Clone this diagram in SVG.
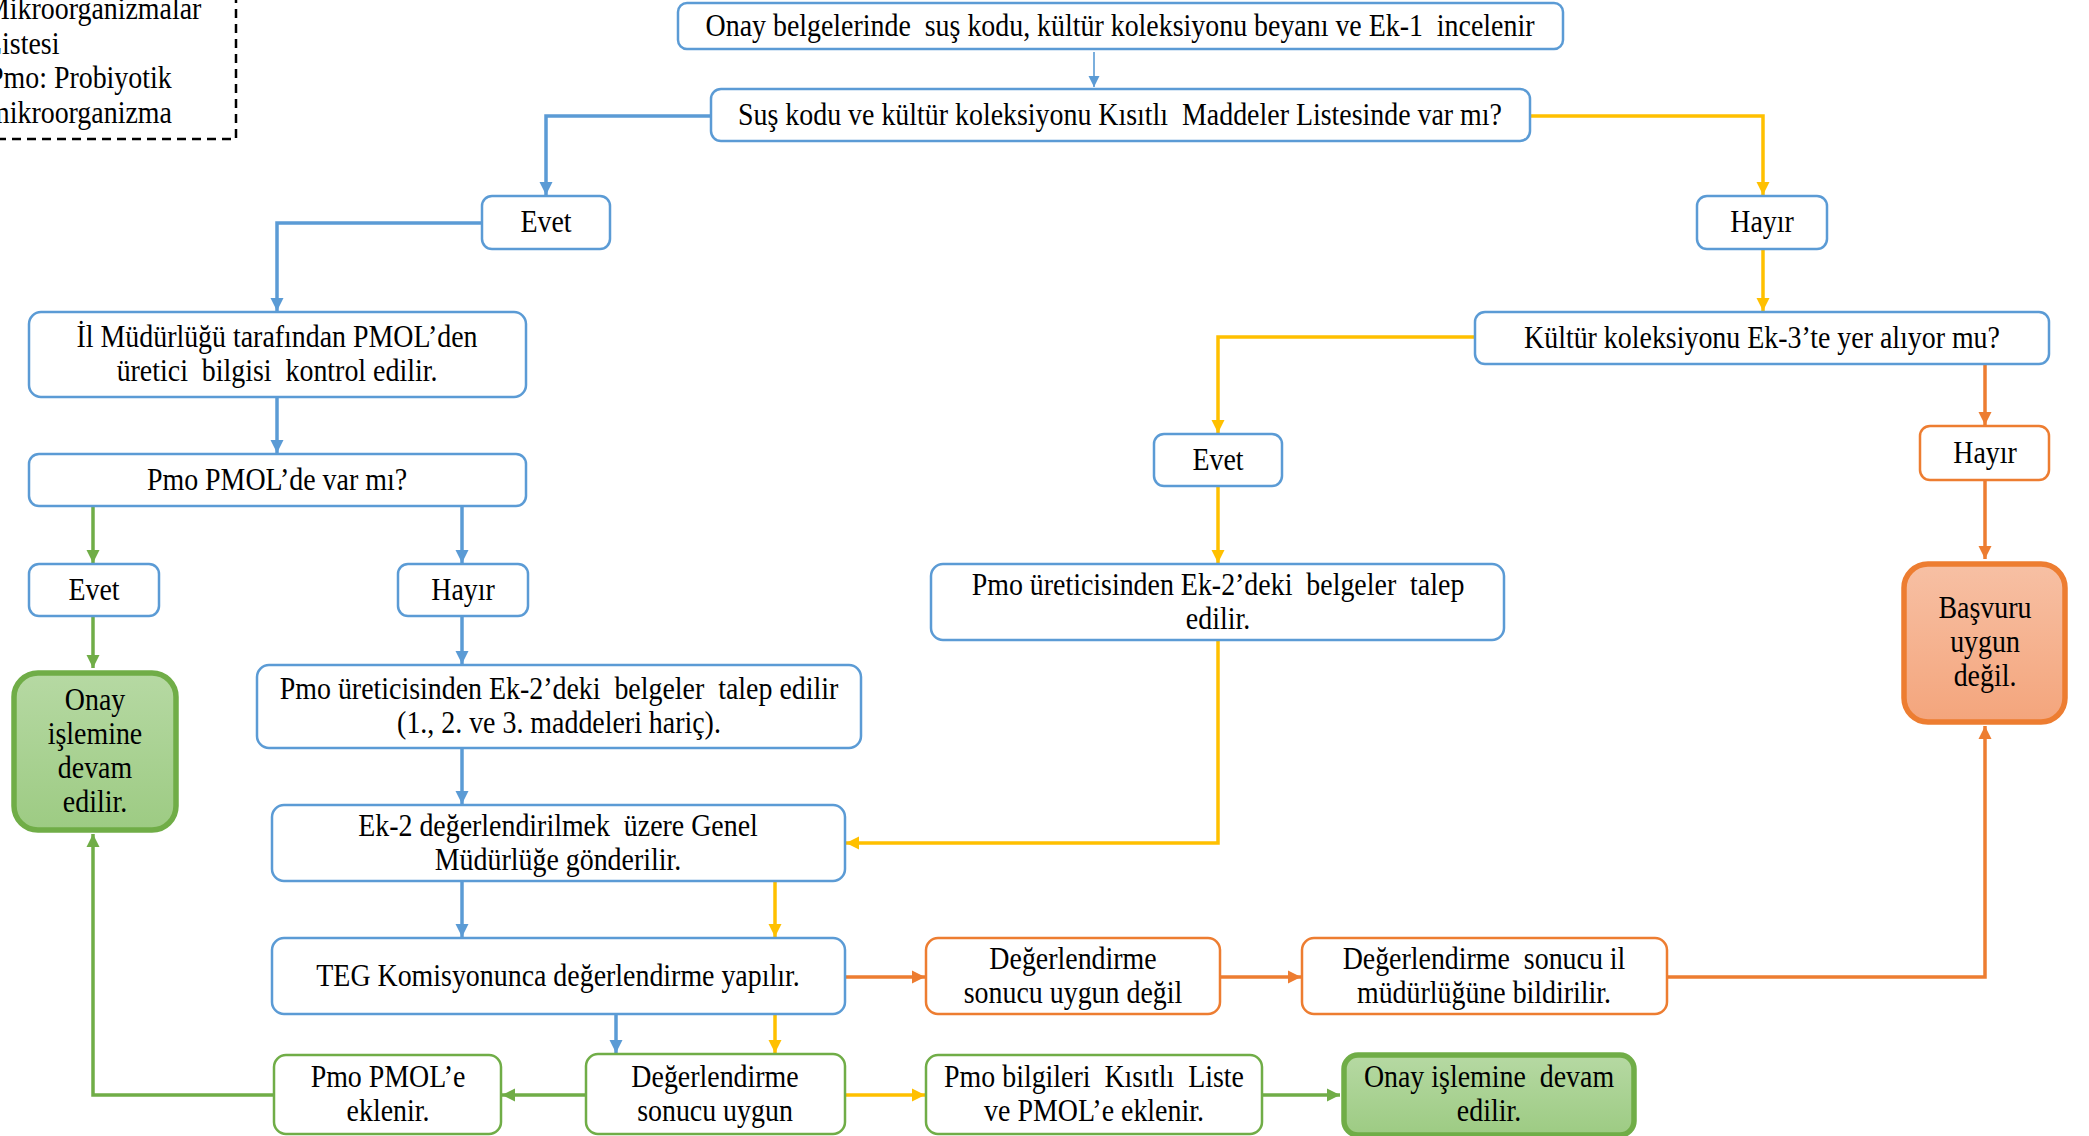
<svg xmlns="http://www.w3.org/2000/svg" width="2089" height="1136" viewBox="0 0 2089 1136">
<style>
.bx{fill:#fff;stroke:#5B9BD5;stroke-width:2.5}
.bo{fill:#fff;stroke:#ED7D31;stroke-width:2.5}
.bg{fill:#fff;stroke:#70AD47;stroke-width:2.5}
.tg{fill:url(#gG);stroke:#70AD47;stroke-width:5.5}
.to{fill:url(#gO);stroke:#ED7D31;stroke-width:5.5}
text{font-family:"Liberation Serif","Times New Roman",serif;font-size:31px;fill:#000}
.c{text-anchor:middle;white-space:pre}
.l{fill:none;stroke-width:3.5}
.lb{stroke:#5B9BD5}
.ly{stroke:#FFC000}
.lo{stroke:#ED7D31}
.lg{stroke:#70AD47}
</style>
<defs>
<linearGradient id="gG" x1="0" y1="0" x2="0" y2="1"><stop offset="0" stop-color="#B6D9A3"/><stop offset="1" stop-color="#9DCB83"/></linearGradient>
<linearGradient id="gO" x1="0" y1="0" x2="0" y2="1"><stop offset="0" stop-color="#F7C0A4"/><stop offset="1" stop-color="#F4A57C"/></linearGradient>
<marker id="ab" markerUnits="userSpaceOnUse" markerWidth="14" markerHeight="14" refX="13" refY="7" orient="auto"><path d="M0,0.5 L13,7 L0,13.5 z" fill="#5B9BD5"/></marker>
<marker id="abs" markerUnits="userSpaceOnUse" markerWidth="12" markerHeight="12" refX="11" refY="6" orient="auto"><path d="M0,0.5 L11,6 L0,11.5 z" fill="#5B9BD5"/></marker>
<marker id="ay" markerUnits="userSpaceOnUse" markerWidth="14" markerHeight="14" refX="13" refY="7" orient="auto"><path d="M0,0.5 L13,7 L0,13.5 z" fill="#FFC000"/></marker>
<marker id="ao" markerUnits="userSpaceOnUse" markerWidth="14" markerHeight="14" refX="13" refY="7" orient="auto"><path d="M0,0.5 L13,7 L0,13.5 z" fill="#ED7D31"/></marker>
<marker id="ag" markerUnits="userSpaceOnUse" markerWidth="14" markerHeight="14" refX="13" refY="7" orient="auto"><path d="M0,0.5 L13,7 L0,13.5 z" fill="#70AD47"/></marker>
</defs>
<rect width="2089" height="1136" fill="#fff"/>

<g id="legend">
<rect x="-20" y="-20" width="256" height="159" fill="none" stroke="#000" stroke-width="2.5" stroke-dasharray="9,6"/>
<text transform="translate(-15 19) scale(0.9 1)">Mikroorganizmalar</text>
<text transform="translate(-15 54) scale(0.9 1)">Listesi</text>
<text transform="translate(-12 88) scale(0.9 1)">Pmo: Probiyotik</text>
<text transform="translate(-12 123) scale(0.9 1)">mikroorganizma</text>
</g>

<g id="connectors">
<path class="l lb" style="stroke-width:1.6" d="M1094 52 V87" marker-end="url(#abs)"/>
<path class="l lb" d="M711 116 H546 V195" marker-end="url(#ab)"/>
<path class="l ly" d="M1530 116 H1763 V195" marker-end="url(#ay)"/>
<path class="l ly" d="M1763 249 V311" marker-end="url(#ay)"/>
<path class="l ly" d="M1475 337 H1218 V433" marker-end="url(#ay)"/>
<path class="l ly" d="M1218 486 V563" marker-end="url(#ay)"/>
<path class="l ly" d="M1218 640 V843 H846" marker-end="url(#ay)"/>
<path class="l lo" d="M1985 364 V425" marker-end="url(#ao)"/>
<path class="l lo" d="M1985 480 V559" marker-end="url(#ao)"/>
<path class="l lb" d="M482 223 H277 V311" marker-end="url(#ab)"/>
<path class="l lb" d="M277 397 V453" marker-end="url(#ab)"/>
<path class="l lg" d="M93 506 V563" marker-end="url(#ag)"/>
<path class="l lb" d="M462 506 V563" marker-end="url(#ab)"/>
<path class="l lg" d="M93 616 V668" marker-end="url(#ag)"/>
<path class="l lb" d="M462 616 V664" marker-end="url(#ab)"/>
<path class="l lb" d="M462 748 V804" marker-end="url(#ab)"/>
<path class="l lb" d="M462 881 V937" marker-end="url(#ab)"/>
<path class="l ly" d="M775 881 V937" marker-end="url(#ay)"/>
<path class="l lo" d="M845 977 H925" marker-end="url(#ao)"/>
<path class="l lo" d="M1220 977 H1301" marker-end="url(#ao)"/>
<path class="l lo" d="M1667 977 H1985 V726" marker-end="url(#ao)"/>
<path class="l lb" d="M616 1014 V1053" marker-end="url(#ab)"/>
<path class="l ly" d="M775 1014 V1053" marker-end="url(#ay)"/>
<path class="l lg" d="M586 1095 H502" marker-end="url(#ag)"/>
<path class="l lg" d="M274 1095 H93 V834" marker-end="url(#ag)"/>
<path class="l ly" d="M845 1095 H925" marker-end="url(#ay)"/>
<path class="l lg" d="M1262 1095 H1340" marker-end="url(#ag)"/>
</g>

<g id="n1"><rect class="bx" x="678" y="3" width="885" height="46" rx="9"/>
<text class="c" transform="translate(1120 36) scale(0.9 1)">Onay belgelerinde  suş kodu, kültür koleksiyonu beyanı ve Ek-1  incelenir</text></g>
<g id="n2"><rect class="bx" x="711" y="89" width="819" height="52" rx="10"/>
<text class="c" transform="translate(1120 125) scale(0.9 1)">Suş kodu ve kültür koleksiyonu Kısıtlı  Maddeler Listesinde var mı?</text></g>
<g id="n3"><rect class="bx" x="482" y="196" width="128" height="53" rx="10"/>
<text class="c" transform="translate(546 232) scale(0.9 1)">Evet</text></g>
<g id="n4"><rect class="bx" x="1697" y="196" width="130" height="53" rx="10"/>
<text class="c" transform="translate(1762 232) scale(0.9 1)">Hayır</text></g>
<g id="n5"><rect class="bx" x="1475" y="312" width="574" height="52" rx="10"/>
<text class="c" transform="translate(1762 348) scale(0.9 1)">Kültür koleksiyonu Ek-3’te yer alıyor mu?</text></g>
<g id="n6"><rect class="bx" x="1154" y="434" width="128" height="52" rx="10"/>
<text class="c" transform="translate(1218 470) scale(0.9 1)">Evet</text></g>
<g id="n7"><rect class="bo" x="1920" y="426" width="129" height="54" rx="10"/>
<text class="c" transform="translate(1985 463) scale(0.9 1)">Hayır</text></g>
<g id="n8"><rect class="bx" x="931" y="564" width="573" height="76" rx="12"/>
<text class="c" transform="translate(1218 595) scale(0.9 1)"><tspan x="0">Pmo üreticisinden Ek-2’deki  belgeler  talep</tspan><tspan x="0" dy="34">edilir.</tspan></text></g>
<g id="n9"><rect class="to" x="1904" y="564" width="161" height="158" rx="24"/>
<text class="c" transform="translate(1985 618) scale(0.9 1)"><tspan x="0">Başvuru</tspan><tspan x="0" dy="34">uygun</tspan><tspan x="0" dy="34">değil.</tspan></text></g>
<g id="n10"><rect class="bx" x="29" y="312" width="497" height="85" rx="12"/>
<text class="c" transform="translate(277 347) scale(0.9 1)"><tspan x="0">İl Müdürlüğü tarafından PMOL’den</tspan><tspan x="0" dy="34">üretici  bilgisi  kontrol edilir.</tspan></text></g>
<g id="n11"><rect class="bx" x="29" y="454" width="497" height="52" rx="10"/>
<text class="c" transform="translate(277 490) scale(0.9 1)">Pmo PMOL’de var mı?</text></g>
<g id="n12"><rect class="bx" x="29" y="564" width="130" height="52" rx="10"/>
<text class="c" transform="translate(94 600) scale(0.9 1)">Evet</text></g>
<g id="n13"><rect class="bx" x="398" y="564" width="130" height="52" rx="10"/>
<text class="c" transform="translate(463 600) scale(0.9 1)">Hayır</text></g>
<g id="n14"><rect class="tg" x="14" y="673" width="162" height="157" rx="24"/>
<text class="c" transform="translate(95 710) scale(0.9 1)"><tspan x="0">Onay</tspan><tspan x="0" dy="34">işlemine</tspan><tspan x="0" dy="34">devam</tspan><tspan x="0" dy="34">edilir.</tspan></text></g>
<g id="n15"><rect class="bx" x="257" y="665" width="604" height="83" rx="12"/>
<text class="c" transform="translate(559 699) scale(0.9 1)"><tspan x="0">Pmo üreticisinden Ek-2’deki  belgeler  talep edilir</tspan><tspan x="0" dy="34">(1., 2. ve 3. maddeleri hariç).</tspan></text></g>
<g id="n16"><rect class="bx" x="272" y="805" width="573" height="76" rx="12"/>
<text class="c" transform="translate(558 836) scale(0.9 1)"><tspan x="0">Ek-2 değerlendirilmek  üzere Genel</tspan><tspan x="0" dy="34">Müdürlüğe gönderilir.</tspan></text></g>
<g id="n17"><rect class="bx" x="272" y="938" width="573" height="76" rx="12"/>
<text class="c" transform="translate(558 986) scale(0.9 1)">TEG Komisyonunca değerlendirme yapılır.</text></g>
<g id="n18"><rect class="bo" x="926" y="938" width="294" height="76" rx="12"/>
<text class="c" transform="translate(1073 969) scale(0.9 1)"><tspan x="0">Değerlendirme</tspan><tspan x="0" dy="34">sonucu uygun değil</tspan></text></g>
<g id="n19"><rect class="bo" x="1302" y="938" width="365" height="76" rx="12"/>
<text class="c" transform="translate(1484 969) scale(0.9 1)"><tspan x="0">Değerlendirme  sonucu il</tspan><tspan x="0" dy="34">müdürlüğüne bildirilir.</tspan></text></g>
<g id="n20"><rect class="bg" x="586" y="1054" width="259" height="80" rx="12"/>
<text class="c" transform="translate(715 1087) scale(0.9 1)"><tspan x="0">Değerlendirme</tspan><tspan x="0" dy="34">sonucu uygun</tspan></text></g>
<g id="n21"><rect class="bg" x="274" y="1055" width="227" height="79" rx="12"/>
<text class="c" transform="translate(388 1087) scale(0.9 1)"><tspan x="0">Pmo PMOL’e</tspan><tspan x="0" dy="34">eklenir.</tspan></text></g>
<g id="n22"><rect class="bg" x="926" y="1055" width="336" height="79" rx="12"/>
<text class="c" transform="translate(1094 1087) scale(0.9 1)"><tspan x="0">Pmo bilgileri  Kısıtlı  Liste</tspan><tspan x="0" dy="34">ve PMOL’e eklenir.</tspan></text></g>
<g id="n23"><rect class="tg" x="1344" y="1055" width="290" height="80" rx="14"/>
<text class="c" transform="translate(1489 1087) scale(0.9 1)"><tspan x="0">Onay işlemine  devam</tspan><tspan x="0" dy="34">edilir.</tspan></text></g>
</svg>
